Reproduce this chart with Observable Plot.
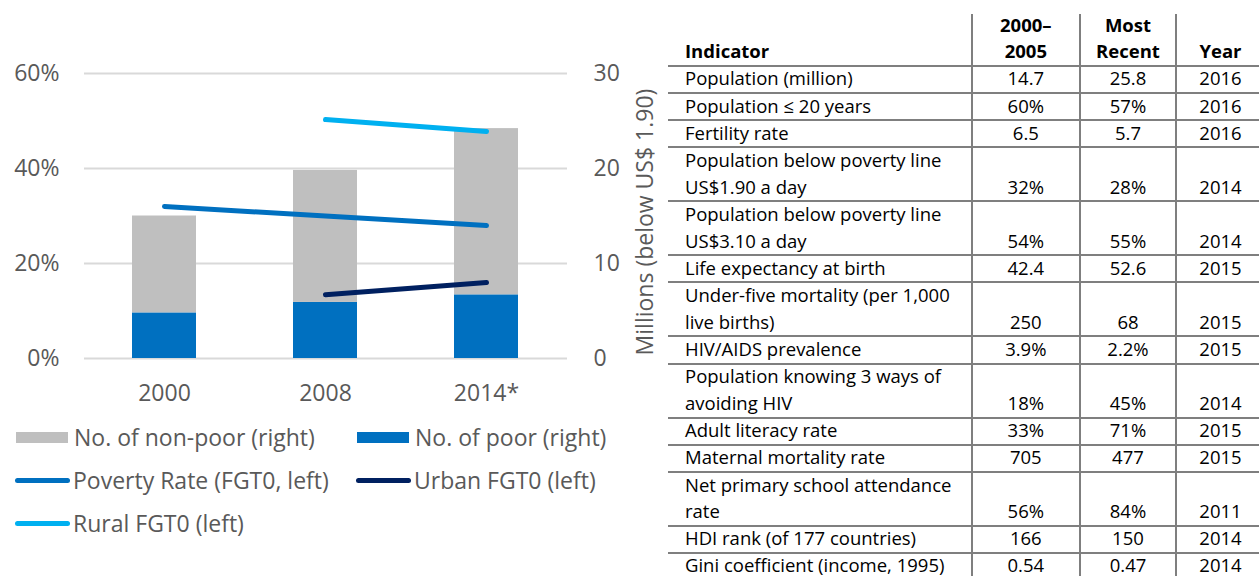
<!DOCTYPE html>
<html>
<head>
<meta charset="utf-8">
<script src="https://cdn.jsdelivr.net/npm/d3@7"></script>
<script src="https://cdn.jsdelivr.net/npm/@observablehq/plot@0.6"></script>
<style>
  html, body { margin: 0; padding: 0; background: #fff; }
  body { width: 1259px; height: 576px; overflow: hidden; position: relative; font-family: "Open Sans", sans-serif; }
  #chart { position: absolute; left: 0; top: 0; }
  #legend { position: absolute; left: 0; top: 0; width: 660px; height: 576px; pointer-events: none; }
  .lg-item { position: absolute; display: flex; align-items: center; height: 40px; font-size: 23px; color: #595959; white-space: nowrap; }
  .lg-rect { width: 52px; height: 11px; margin-right: 6px; }
  .lg-line { width: 55px; height: 5px; border-radius: 3px; margin-right: 3px; }
  #tbl { position: absolute; left: 668px; top: 14px; width: 596px; font-size: 18.5px; color: #000; }
  .row { display: flex; box-sizing: border-box; border-top: 2px solid #7f7f7f; }
  .row.head { border-top: none; font-weight: bold; }
  .cell { box-sizing: border-box; display: flex; align-items: flex-end; line-height: 26.6px; white-space: pre; padding-bottom: 0px; }
  .cell.c0 { width: 302.7px; padding-left: 17px; justify-content: flex-start; }
  .cell.c1 { width: 108.3px; border-left: 2px solid #7f7f7f; justify-content: center; text-align: center; }
  .cell.c2 { width: 96px; border-left: 2px solid #7f7f7f; justify-content: center; text-align: center; }
  .cell.c3 { width: 89px; border-left: 2px solid #7f7f7f; justify-content: center; text-align: center; }
</style>
</head>
<body>
<div id="chart"></div>
<div id="legend"></div>
<div id="tbl"></div>
<script>
// ---------- Chart data ----------
const years = ["2000", "2008", "2014*"];
const poorMillions = [4.8, 5.9, 6.7];
const nonPoorMillions = [10.2, 13.9, 17.5];
const povertyRate = [32, 30, 28];
const urbanYears = ["2008", "2014*"];
const urbanRate = [13.4, 16.0];
const ruralYears = ["2008", "2014*"];
const ruralRate = [50.3, 47.8];

const seriesNames = [
  "No. of non-poor (right)",
  "No. of poor (right)",
  "Poverty Rate (FGT0, left)",
  "Urban FGT0 (left)",
  "Rural FGT0 (left)"
];
const seriesColors = ["#BFBFBF", "#0070C0", "#0070C0", "#002060", "#00B0F0"];
const seriesKinds = ["rect", "rect", "line", "line", "line"];

const leftTicks = [0, 20, 40, 60];          // percent
const rightAxisTitle = "Millions (below US$ 1.90)";
const pctPerMillion = 2;                     // 30 million ↔ 60 %

// ---------- Table data ----------
const tableHeader = ["Indicator", "2000–\n2005", "Most\nRecent", "Year"];
const indicators = [
  "Population (million)",
  "Population ≤ 20 years",
  "Fertility rate",
  "Population below poverty line\nUS$1.90 a day",
  "Population below poverty line\nUS$3.10 a day",
  "Life expectancy at birth",
  "Under-five mortality (per 1,000\nlive births)",
  "HIV/AIDS prevalence",
  "Population knowing 3 ways of\navoiding HIV",
  "Adult literacy rate",
  "Maternal mortality rate",
  "Net primary school attendance\nrate",
  "HDI rank (of 177 countries)",
  "Gini coefficient (income, 1995)"
];
const values2000_2005 = ["14.7", "60%", "6.5", "32%", "54%", "42.4", "250", "3.9%", "18%", "33%", "705", "56%", "166", "0.54"];
const valuesMostRecent = ["25.8", "57%", "5.7", "28%", "55%", "52.6", "68", "2.2%", "45%", "71%", "477", "84%", "150", "0.47"];
const valuesYear = ["2016", "2016", "2016", "2014", "2014", "2015", "2015", "2015", "2014", "2015", "2015", "2011", "2014", "2014"];

// ---------- Build chart ----------
const barData = [];
years.forEach((y, i) => {
  barData.push({year: y, series: seriesNames[1], value: poorMillions[i]});
});
years.forEach((y, i) => {
  barData.push({year: y, series: seriesNames[0], value: nonPoorMillions[i]});
});
const lineData = [
  ...years.map((y, i) => ({year: y, series: seriesNames[2], rate: povertyRate[i]})),
  ...urbanYears.map((y, i) => ({year: y, series: seriesNames[3], rate: urbanRate[i]})),
  ...ruralYears.map((y, i) => ({year: y, series: seriesNames[4], rate: ruralRate[i]}))
];

const chart = Plot.plot({
  width: 670,
  height: 410,
  marginTop: 73,
  marginBottom: 52,
  marginLeft: 84,
  marginRight: 103,
  style: {fontFamily: "'Open Sans', sans-serif", fontSize: "23px", color: "#595959", background: "transparent", overflow: "visible"},
  x: {domain: years, paddingInner: 0.6, paddingOuter: 0.3, label: null},
  y: {domain: [0, 60], label: null},
  color: {domain: seriesNames, range: seriesColors},
  marks: [
    Plot.gridY(leftTicks, {stroke: "#d9d9d9", strokeOpacity: 1, strokeWidth: 2}),
    Plot.barY(barData, {x: "year", y: d => d.value * pctPerMillion, fill: "series"}),
    Plot.line(lineData, {x: "year", y: "rate", z: "series", stroke: "series", strokeWidth: 5, strokeLinecap: "round"}),
    Plot.axisY(leftTicks, {anchor: "left", tickSize: 0, tickPadding: 25, tickFormat: d => d + "%", label: null}),
    Plot.axisY(leftTicks, {anchor: "right", tickSize: 0, tickPadding: 26, tickFormat: d => String(d / pctPerMillion), label: null}),
    Plot.axisX({tickSize: 0, tickPadding: 26, label: null}),
    Plot.text([rightAxisTitle], {frameAnchor: "right", textAnchor: "middle", lineAnchor: "middle", text: d => d, rotate: -90, dx: 78, dy: 6, fill: "#595959"})
  ]
});
document.getElementById("chart").appendChild(chart);

// ---------- Legend ----------
const legend = document.getElementById("legend");
const legendCols = [15, 356];
const legendRows = [437, 480, 523];
seriesNames.forEach((name, i) => {
  const item = document.createElement("div");
  item.className = "lg-item";
  item.style.left = legendCols[i % 2] + "px";
  item.style.top = (legendRows[Math.floor(i / 2)] - 20) + "px";
  const sw = document.createElement("div");
  sw.className = seriesKinds[i] === "rect" ? "lg-rect" : "lg-line";
  sw.style.background = seriesColors[i];
  if (seriesKinds[i] === "rect") sw.style.marginLeft = "1px";
  const tx = document.createElement("span");
  tx.textContent = name;
  item.appendChild(sw);
  item.appendChild(tx);
  legend.appendChild(item);
});

// ---------- Table ----------
const tbl = document.getElementById("tbl");
const LINE = 27.05;
function addRow(cells, isHead) {
  const row = document.createElement("div");
  row.className = "row" + (isHead ? " head" : "");
  const nLines = Math.max(...cells.map(c => c.split("\n").length));
  row.style.height = (isHead ? 51 : nLines * LINE) + "px";
  cells.forEach((c, j) => {
    const cell = document.createElement("div");
    cell.className = "cell c" + j;
    const span = document.createElement("span");
    span.textContent = c;
    cell.appendChild(span);
    row.appendChild(cell);
  });
  tbl.appendChild(row);
}
addRow(tableHeader, true);
indicators.forEach((ind, i) => {
  addRow([ind, values2000_2005[i], valuesMostRecent[i], valuesYear[i]], false);
});
</script>
</body>
</html>
